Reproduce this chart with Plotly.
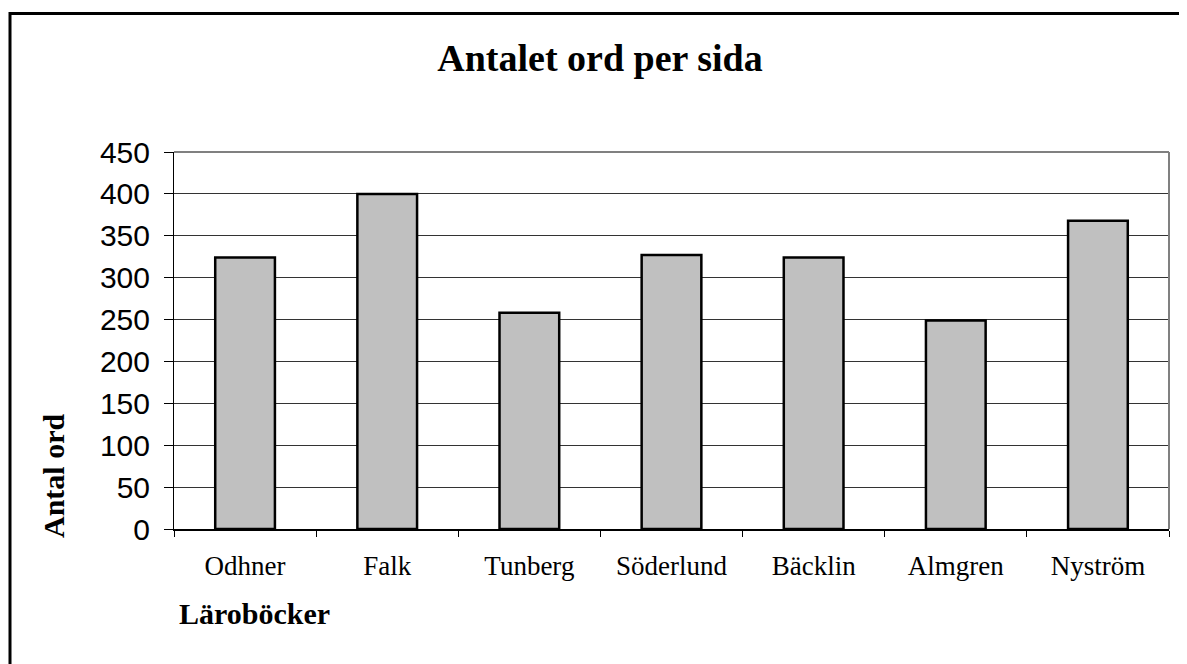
import plotly.graph_objects as go

categories = ["Odhner", "Falk", "Tunberg", "Söderlund", "Bäcklin", "Almgren", "Nyström"]
values = [324, 400, 258, 327, 324, 249, 368]
y_ticks = [0, 50, 100, 150, 200, 250, 300, 350, 400, 450]

OFF = 8  # default page body margin
W, H = 1187 - OFF, 664 - OFF
L, T = 174 - OFF, 152 - OFF
R = 1187 - 1169
B = 664 - 529
pw, ph = W - L - R, H - T - B

def px(x):
    return (x - OFF - L) / pw

def py(y):
    return (H - B - (y - OFF)) / ph

serif = "Liberation Serif, Times New Roman, serif"
sans = "Liberation Sans, Arial, sans-serif"

fig = go.Figure(go.Bar(
    x=categories, y=values,
    marker=dict(color="#C0C0C0", line=dict(color="black", width=2.5)),
    width=0.42,
))

fig.update_layout(
    width=W, height=H,
    margin=dict(l=L, r=R, t=T, b=B, autoexpand=False),
    paper_bgcolor="white", plot_bgcolor="white",
    showlegend=False,
    title=dict(text="<b>Antalet ord per sida</b>", x=(600 - OFF) / W, xanchor="center",
               y=1 - (58 - OFF) / H, yanchor="middle", yref="container",
               font=dict(family=serif, size=38, color="black")),
    xaxis=dict(
        type="category", tickson="boundaries", ticks="outside", ticklen=6,
        tickcolor="black", tickwidth=1,
        showline=True, linecolor="black", linewidth=1.5,
        showgrid=False, tickfont=dict(family=serif, size=27, color="black"),
        ticklabelstandoff=12,
    ),
    yaxis=dict(
        range=[0, 450], tickvals=y_ticks, ticks="outside", ticklen=9,
        tickcolor="black", tickwidth=1,
        showline=True, linecolor="black", linewidth=1,
        showgrid=True, gridcolor="#333333", gridwidth=1,
        zeroline=False,
        tickfont=dict(family=sans, size=30, color="black"),
        ticklabelstandoff=8,
    ),
    annotations=[
        dict(text="<b>Läroböcker</b>", xref="paper", yref="paper",
             x=px(177), y=py(613), xanchor="left", yanchor="middle",
             showarrow=False, font=dict(family=serif, size=30, color="black")),
        dict(text="<b>Antal ord</b>", xref="paper", yref="paper",
             x=px(53), y=py(476), xanchor="center", yanchor="middle", textangle=-90,
             showarrow=False, font=dict(family=serif, size=30, color="black")),
    ],
    shapes=[
        dict(type="line", xref="paper", yref="paper", x0=0, x1=1, y0=1, y1=1,
             line=dict(color="#808080", width=2)),
        dict(type="line", xref="paper", yref="paper", x0=1, x1=1, y0=0, y1=1,
             line=dict(color="#808080", width=2)),
        dict(type="rect", xref="paper", yref="paper", x0=px(10), x1=px(1300),
             y0=py(800), y1=py(13.5), line=dict(color="black", width=3),
             fillcolor="rgba(0,0,0,0)", layer="above"),
    ],
)

fig.write_html("out.html")
